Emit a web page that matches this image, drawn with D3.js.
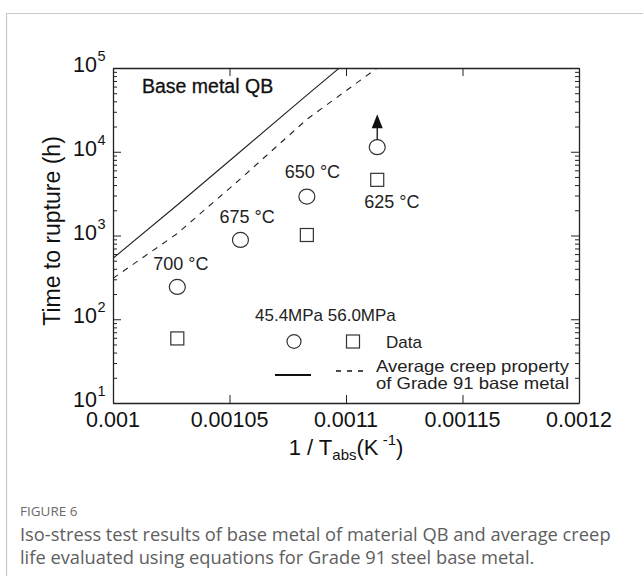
<!DOCTYPE html>
<html>
<head>
<meta charset="utf-8">
<script src="https://cdn.jsdelivr.net/npm/d3@7"></script>
<style>
  html, body { margin: 0; padding: 0; background: #fff; }
  svg { display: block; }
</style>
</head>
<body>
<script>
// ---- data ----
const testLabels = ["700 °C", "675 °C", "650 °C", "625 °C"];
const testInvT = [0.0010276, 0.0010547, 0.0010832, 0.0011134];
const rupture454 = [243, 886, 2916, 11350];   // 45.4 MPa (625 °C: running, arrow)
const rupture560 = [59, null, 1014, 4620];    // 56.0 MPa
const runout454 = [false, false, false, true];

const avgInvT = [0.001, 0.0010276, 0.0010547, 0.0010832, 0.0011134];
const avgSolid = [534, 2312, 10070, 47400, 239000];   // 45.4 MPa average
const avgDashed = [308, 1057, 4745, 24380, 100000];  // 56.0 MPa average

const xTicks = [0.001, 0.00105, 0.0011, 0.00115, 0.0012];
const xTickLabels = ["0.001", "0.00105", "0.0011", "0.00115", "0.0012"];
const yTicks = [10, 100, 1000, 10000, 100000];
const yTickExp = ["1", "2", "3", "4", "5"];

// ---- layout ----
const W = 643, H = 576;
const plot = {l: 113, r: 579, t: 68, b: 403};
const F = "'Liberation Sans', Arial, sans-serif";

const svg = d3.select("body").append("svg").attr("width", W).attr("height", H);

// outer frame
svg.append("path")
  .attr("d", `M6.5,${H+2} L6.5,13.5 L${W+2},13.5`)
  .attr("fill", "none").attr("stroke", "#c8c8c8").attr("stroke-width", 1.2);

const x = d3.scaleLinear().domain([0.001, 0.0012]).range([plot.l, plot.r]);
const y = d3.scaleLog().domain([10, 100000]).range([plot.b, plot.t]);

// clip
svg.append("defs").append("clipPath").attr("id", "clip")
  .append("rect").attr("x", plot.l).attr("y", plot.t)
  .attr("width", plot.r - plot.l).attr("height", plot.b - plot.t);

// minor y ticks values
const minor = [];
for (let d = 10; d < 100000; d *= 10) for (let k = 2; k <= 9; k++) minor.push(d * k);

const axisColor = "#222";

// left axis (ticks inward)
const gl = svg.append("g").attr("transform", `translate(${plot.l},0)`)
  .call(d3.axisLeft(y).tickValues(yTicks).tickSizeInner(-8).tickSizeOuter(0).tickFormat(""));
gl.append("g").call(d3.axisLeft(y).tickValues(minor).tickSizeInner(-4).tickSizeOuter(0).tickFormat(""))
  .select(".domain").remove();
// right axis
const gr = svg.append("g").attr("transform", `translate(${plot.r},0)`)
  .call(d3.axisRight(y).tickValues(yTicks).tickSizeInner(-8).tickSizeOuter(0).tickFormat(""));
gr.append("g").call(d3.axisRight(y).tickValues(minor).tickSizeInner(-4).tickSizeOuter(0).tickFormat(""))
  .select(".domain").remove();
// bottom axis
svg.append("g").attr("transform", `translate(0,${plot.b})`)
  .call(d3.axisBottom(x).tickValues(xTicks).tickSizeInner(-8).tickSizeOuter(0).tickFormat(""));
// top axis
svg.append("g").attr("transform", `translate(0,${plot.t})`)
  .call(d3.axisTop(x).tickValues(xTicks).tickSizeInner(-8).tickSizeOuter(0).tickFormat(""));

svg.selectAll(".domain").attr("stroke", axisColor).attr("stroke-width", 1.3);
svg.selectAll(".tick line").attr("stroke", axisColor).attr("stroke-width", 1);

// y tick labels 10^n
yTicks.forEach((v, i) => {
  svg.append("text").attr("x", 97).attr("y", y(v) + 4)
    .attr("text-anchor", "end").attr("font-family", F).attr("font-size", 21.5).attr("fill", "#111")
    .text("10");
  svg.append("text").attr("x", 97.5).attr("y", y(v) - 7)
    .attr("font-family", F).attr("font-size", 14.5).attr("fill", "#111").text(yTickExp[i]);
});
// x tick labels
xTicks.forEach((v, i) => {
  svg.append("text").attr("x", x(v)).attr("y", 427)
    .attr("text-anchor", "middle").attr("font-family", F).attr("font-size", 21.5).attr("fill", "#111")
    .text(xTickLabels[i]);
});

// axis titles
svg.append("text")
  .attr("transform", `translate(60,231) rotate(-90)`)
  .attr("text-anchor", "middle").attr("font-family", F).attr("font-size", 23).attr("fill", "#111")
  .text("Time to rupture (h)");

const xt = svg.append("text").attr("x", 346).attr("y", 455)
  .attr("text-anchor", "middle").attr("font-family", F).attr("font-size", 22).attr("fill", "#111");
xt.append("tspan").text("1 / T");
xt.append("tspan").attr("font-size", 15).attr("dy", 5).text("abs");
xt.append("tspan").attr("dy", -5).text("(K");
xt.append("tspan").attr("font-size", 15).attr("dy", -10).text(" -1");
xt.append("tspan").attr("dy", 10).text(")");

// average lines
const line = d3.line().x((d, i) => x(avgInvT[i])).y(d => y(d));
const lines = svg.append("g").attr("clip-path", "url(#clip)");
lines.append("path").datum(avgSolid).attr("d", line)
  .attr("fill", "none").attr("stroke", "#222").attr("stroke-width", 1.1);
lines.append("path").datum(avgDashed).attr("d", line)
  .attr("fill", "none").attr("stroke", "#222").attr("stroke-width", 1.1)
  .attr("stroke-dasharray", "6,6");

// title in plot
svg.append("text").attr("x", 142).attr("y", 92.5)
  .attr("font-family", F).attr("font-size", 19.5).attr("fill", "#111")
  .attr("stroke", "#111").attr("stroke-width", 0.3)
  .text("Base metal QB");

// data points
const pts = svg.append("g");
testInvT.forEach((v, i) => {
  if (rupture454[i] != null) {
    pts.append("ellipse").attr("cx", x(v)).attr("cy", y(rupture454[i]))
      .attr("rx", 8).attr("ry", 7.5)
      .attr("fill", "none").attr("stroke", "#333").attr("stroke-width", 1.2);
    if (runout454[i]) {
      const cy = y(rupture454[i]);
      pts.append("line").attr("x1", x(v)).attr("x2", x(v))
        .attr("y1", cy - 7.5).attr("y2", cy - 20)
        .attr("stroke", "#111").attr("stroke-width", 1.3);
      pts.append("path")
        .attr("d", `M${x(v)},${cy - 33} L${x(v) - 5.5},${cy - 19} L${x(v) + 5.5},${cy - 19} Z`)
        .attr("fill", "#111");
    }
  }
  if (rupture560[i] != null) {
    pts.append("rect").attr("x", x(v) - 6.5).attr("y", y(rupture560[i]) - 6.5)
      .attr("width", 13).attr("height", 13)
      .attr("fill", "none").attr("stroke", "#333").attr("stroke-width", 1.2);
  }
});

// temperature labels
const labelPos = [
  {dx: -24, yv: rupture454[0], dy: -17},
  {dx: -21, yv: rupture454[1], dy: -17},
  {dx: -22, yv: rupture454[2], dy: -19},
  {dx: -13, yv: rupture560[3], dy: 28}
];
testInvT.forEach((v, i) => {
  svg.append("text").attr("x", x(v) + labelPos[i].dx).attr("y", y(labelPos[i].yv) + labelPos[i].dy)
    .attr("font-family", F).attr("font-size", 18).attr("fill", "#222")
    .text(testLabels[i]);
});

// legend
svg.append("text").attr("x", 255).attr("y", 321)
  .attr("font-family", F).attr("font-size", 17).attr("fill", "#222")
  .text("45.4MPa 56.0MPa");
svg.append("ellipse").attr("cx", 294).attr("cy", 341.5).attr("rx", 7).attr("ry", 6.8)
  .attr("fill", "none").attr("stroke", "#333").attr("stroke-width", 1.2);
svg.append("rect").attr("x", 346.5).attr("y", 335).attr("width", 13).attr("height", 13)
  .attr("fill", "none").attr("stroke", "#333").attr("stroke-width", 1.2);
svg.append("text").attr("x", 386).attr("y", 348)
  .attr("font-family", F).attr("font-size", 17).attr("fill", "#222").text("Data");
svg.append("line").attr("x1", 275).attr("x2", 311).attr("y1", 375).attr("y2", 375)
  .attr("stroke", "#111").attr("stroke-width", 2);
svg.append("line").attr("x1", 336).attr("x2", 364).attr("y1", 371).attr("y2", 371)
  .attr("stroke", "#111").attr("stroke-width", 1.3).attr("stroke-dasharray", "5,6");
svg.append("text").attr("x", 376).attr("y", 372)
  .attr("font-family", F).attr("font-size", 16.5).attr("fill", "#222")
  .attr("textLength", 193).attr("lengthAdjust", "spacingAndGlyphs")
  .text("Average creep property");
svg.append("text").attr("x", 376).attr("y", 389)
  .attr("font-family", F).attr("font-size", 16.5).attr("fill", "#222")
  .attr("textLength", 193).attr("lengthAdjust", "spacingAndGlyphs")
  .text("of Grade 91 base metal");

// caption
const CF = "'Open Sans', 'Noto Sans', sans-serif";
svg.append("text").attr("x", 20).attr("y", 516)
  .attr("font-family", CF).attr("font-size", 13.5).attr("fill", "#6a6a6a").text("FIGURE 6");
svg.append("text").attr("x", 20).attr("y", 541)
  .attr("font-family", CF).attr("font-size", 18.3).attr("fill", "#5e5e5e")
  .text("Iso-stress test results of base metal of material QB and average creep");
svg.append("text").attr("x", 20).attr("y", 564)
  .attr("font-family", CF).attr("font-size", 18.3).attr("fill", "#5e5e5e")
  .text("life evaluated using equations for Grade 91 steel base metal.");
</script>
</body>
</html>
